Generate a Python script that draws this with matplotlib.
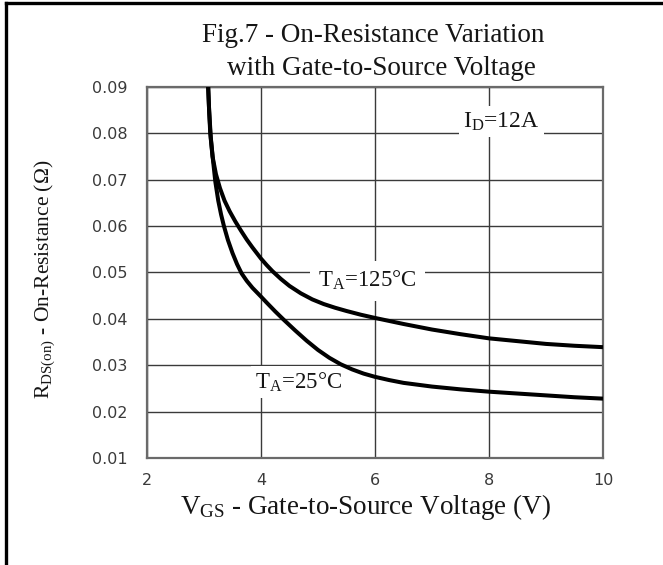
import numpy as np
import matplotlib
matplotlib.use('Agg')
import matplotlib.pyplot as plt
from matplotlib.lines import Line2D

plt.rcParams['mathtext.fontset'] = 'custom'
plt.rcParams['mathtext.rm'] = 'Liberation Serif'
plt.rcParams['mathtext.it'] = 'Liberation Serif:italic'

# curve readings (V_GS in volts, R_DS(on) in ohms)
vgs_125 = [3.07, 3.09, 3.11, 3.15, 3.21, 3.28, 3.36, 3.45, 3.55, 3.65, 3.75, 3.85, 4.0, 4.1, 4.2, 4.35, 4.5,
           4.7, 4.9, 5.1, 5.3, 5.5, 5.75, 6.0, 6.5, 7.0, 7.5, 8.0, 8.5, 9.0, 9.5, 10.0]
rds_125 = [0.091, 0.085, 0.080, 0.075, 0.0712, 0.0682, 0.0655, 0.0632, 0.0610, 0.0590, 0.0571, 0.0554, 0.0530,
           0.0516, 0.0503, 0.0486, 0.0471, 0.0455, 0.0442, 0.0432, 0.0424, 0.0417, 0.0409, 0.0402, 0.0389,
           0.0377, 0.0367, 0.0358, 0.0352, 0.0346, 0.0342, 0.0339]
vgs_25 = [3.07, 3.09, 3.12, 3.16, 3.20, 3.25, 3.30, 3.35, 3.42, 3.50, 3.58, 3.66, 3.75, 3.85, 4.0, 4.1, 4.25,
          4.4, 4.6, 4.8, 5.0, 5.2, 5.4, 5.6, 5.8, 6.0, 6.25, 6.5, 7.0, 7.5, 8.0, 8.5, 9.0, 9.5, 10.0]
rds_25 = [0.091, 0.085, 0.079, 0.074, 0.0695, 0.0655, 0.0625, 0.0600, 0.0570, 0.0542, 0.0518, 0.0498, 0.0482,
          0.0467, 0.0448, 0.0435, 0.0416, 0.0398, 0.0375, 0.0353, 0.0333, 0.0316, 0.0302, 0.0291, 0.0282,
          0.0275, 0.0268, 0.0262, 0.0254, 0.0248, 0.0243, 0.0239, 0.0235, 0.0231, 0.0228]

xticks = [2, 4, 6, 8, 10]
yticks = [0.01, 0.02, 0.03, 0.04, 0.05, 0.06, 0.07, 0.08, 0.09]

fig = plt.figure(figsize=(6.63, 5.65), dpi=100)
ax = fig.add_axes([0.2217, 0.1894, 0.6878, 0.6566])

ax.plot(vgs_125, rds_125, color='black', lw=2.9, solid_capstyle='butt', solid_joinstyle='round', zorder=3)
ax.plot(vgs_25, rds_25, color='black', lw=2.9, solid_capstyle='butt', solid_joinstyle='round', zorder=3)

ax.set_xlim(2, 10)
ax.set_ylim(0.01, 0.09)
ax.set_xticks(xticks)
ax.set_yticks(yticks)
ax.set_xticklabels([str(t) for t in xticks])
ax.set_yticklabels(['%.2f' % t for t in yticks])
ax.tick_params(length=0, labelsize=11.5, labelcolor='#3a3a3a')
ax.tick_params(axis='y', pad=14)
ax.tick_params(axis='x', pad=11)
ax.grid(True, color='#3a3a3a', lw=1.0)
ax.set_axisbelow(True)
for s in ax.spines.values():
    s.set_color('#6a6a6a')
    s.set_linewidth(1.6)

serif = 'Liberation Serif'
tc = '#151515'

ax.set_xlabel('$\\mathrm{V_{GS}}$ - Gate-to-Source Voltage (V)', family=serif, fontsize=19.5, color=tc, va='center')
ax.xaxis.set_label_coords(0.48, -0.132)
ax.set_ylabel('$\\mathrm{R_{DS(on)}}$ - On-Resistance (Ω)', family=serif, fontsize=15.5, color=tc, va='center')
ax.yaxis.set_label_coords(-0.224, 0.482)

fig.text(0.563, 0.938, 'Fig.7 - On-Resistance Variation', family=serif, fontsize=19.5, color=tc,
         ha='center', va='center')
fig.text(0.576, 0.879, 'with Gate-to-Source Voltage', family=serif, fontsize=19.5, color=tc,
         ha='center', va='center')

box = dict(facecolor='white', edgecolor='none', pad=3)
ax.text(7.55, 0.0825, '$\\mathrm{I_D}$=12A', family=serif, fontsize=17, color=tc, va='center', bbox=box, zorder=2)
ax.text(5.0, 0.0482, '$\\mathrm{T_A}$=125°C', family=serif, fontsize=16.5, color=tc, va='center',
        bbox=dict(facecolor='white', edgecolor='none', pad=6), zorder=2)
ax.text(3.9, 0.0264, '$\\mathrm{T_A}$=25°C', family=serif, fontsize=16.5, color=tc, va='center', bbox=box, zorder=2)

# outer frame lines of the scanned figure (left and top only)
fig.add_artist(Line2D([0.009, 0.009], [0, 0.995], transform=fig.transFigure, color='black', lw=2.4))
fig.add_artist(Line2D([0.009, 1.0], [0.995, 0.995], transform=fig.transFigure, color='black', lw=2.4))

fig.savefig('out.png', dpi=100)
